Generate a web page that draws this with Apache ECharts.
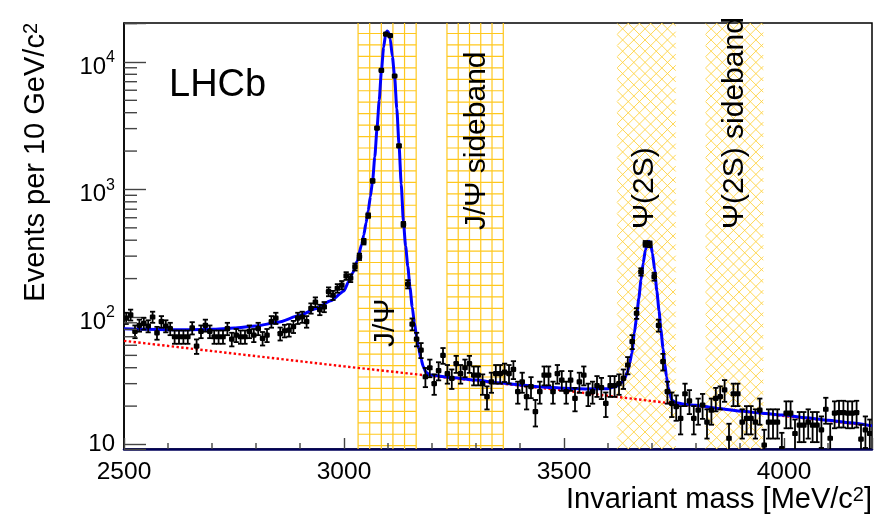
<!DOCTYPE html>
<html><head><meta charset="utf-8">
<script src="https://cdn.jsdelivr.net/npm/echarts@6/dist/echarts.min.js"></script>
<style>html,body{margin:0;padding:0;background:#fff}#c{width:887px;height:521px}</style>
</head><body><div id="c"></div>
<script>
// ---- data ----
const binStart = 2500;      // MeV/c^2
const binWidth = 10;        // MeV/c^2
const counts = [
  98,104,77,86,89,85,100,75,92,85,
  81,70,70,70,70,82,59,77,86,77,
  70,70,70,81,67,72,70,70,77,72,
  81,68,72,92,98,74,78,79,84,98,
  100,92,117,131,114,120,158,148,168,178,
  210,202,247,297,390,624,1167,3030,8580,16500,
  16100,7760,2200,533,181,88,67,55,34,40,
  30,38,50,36,33,43,36,40,43,35,
  35,30,23.7,31,36,36,37,36,38.8,26,
  31,23.7,28.4,18.1,26,35,35,26,36,32,
  26,32,23,31,35,25,26,29,28,21,
  29,29,30,33,42,64,107,226,375,372,
  207,86,44.7,26,21,19.8,16,25,22,16,
  18.6,20.4,15,18.6,23,23.7,26.8,11.2,25,25,
  15,16,16,15,18.6,9.9,15,15,15,9.3,
  17.6,17.6,12.2,14.2,14.2,15,14.2,14.2,13,18.9,
  11.2,17.6,17.8,17.8,17.6,17.6,17.8,11,13,12.2
];
const fitMass = [2500,2550,2600,2650,2700,2750,2800,2850,2900,2935,2970,3000,3010,3020,3030,3040,3045,3050,3055,
  3060,3065,3070,3075,3080,3085,3090,3095,3098,3101,3105,3110,3115,3120,3125,3130,3135,3140,3145,3150,
  3155,3160,3165,3170,3175,3180,3186,3195,3250,3300,3350,3400,3450,3500,3550,3600,
  3620,3630,3638,3644,3649,3654,3660,3665,3670,3675,3680,3685,3690,3693,3697,3701,3706,3711,3716,3720,
  3725,3729,3733,3737,3741,3745,3755,3770,3800,3850,3900,3950,4000,4050,4100,4150,4200];
const fitVal = [81,80,79.5,79.5,80,82,85,91,103,116,134,160,188,222,275,370,440,545,680,
  880,1170,1800,3000,5000,8500,13000,16800,17500,17200,15200,11000,7700,4300,2250,1100,560,360,250,170,
  120,90,70,56,47,41,37,35,33.4,32,30.5,29.3,28.3,27.6,27.3,27.4,
  28.8,30.5,33,37,43,52,75,100,140,195,265,335,385,392,372,316,235,160,112,80,
  57,43,34,28,24.5,22.3,21.3,20.8,20.3,19.2,18.3,17.6,17,16.2,15.5,14.8,14];
const bkgMass = [2500,3000,3500,3745,4200];
const bkgVal  = [65,41,26.5,21,14];
const bandStart = [3032,3234,3621,3822];
const bandEnd   = [3164,3362,3754,3953];
const bandKind  = ['grid','grid','cross','cross'];
const xTickLabels = [2500,3000,3500,4000];
const xMinorTicks = [2600,2700,2800,2900,3100,3200,3300,3400,3600,3700,3800,3900,4100];
const yTickExponents = [1,2,3,4];
const yMinorTicks = [20,30,40,50,60,70,80,90,200,300,400,500,600,700,800,900,
  2000,3000,4000,5000,6000,7000,8000,9000,20000];

const FONT = '"Liberation Sans", Arial, Helvetica, sans-serif';
const chart = echarts.init(document.getElementById('c'), null, {renderer:'canvas'});

const pointData = counts.map((v,i)=>[binStart + binWidth*(i+0.5), v]);
const fitData = fitMass.map((m,i)=>[m, fitVal[i]]);
const bkgData = bkgMass.map((m,i)=>[m, bkgVal[i]]);
const bandData = bandStart.map((s,i)=>[s, bandEnd[i], i]);
const tickData = yMinorTicks.map(v=>[2500, v, 0]).concat(xMinorTicks.map(v=>[v, 100, 1]));

function bandRender(params, api){
  const cs = params.coordSys;
  const xa = api.coord([api.value(0), 100])[0];
  const xb = api.coord([api.value(1), 100])[0];
  const y0 = cs.y, y1 = cs.y + cs.height;
  const kind = bandKind[api.value(2)];
  const ch = [];
  if (kind === 'grid') {
    const col = '#ffc81e';
    const n = Math.round((xb-xa)/11.5), dx = (xb-xa)/n;
    for (let i=0;i<=n;i++) ch.push({type:'line', shape:{x1:xa+i*dx,y1:y0,x2:xa+i*dx,y2:y1}, style:{stroke:col,lineWidth:1.2}});
    for (let y=y0+10.5; y<y1; y+=11.45) ch.push({type:'line', shape:{x1:xa,y1:y,x2:xb,y2:y}, style:{stroke:col,lineWidth:1.2}});
  } else {
    const col = '#ffd23f';
    const sp = 11.2, H = y1-y0;
    for (let c = xa - H - sp; c < xb + sp; c += sp) {
      const ylo = Math.max(y0, y0 + (xa - c)), yhi = Math.min(y1, y0 + (xb - c));
      if (yhi > ylo) ch.push({type:'line', shape:{x1:c+ylo-y0,y1:ylo,x2:c+yhi-y0,y2:yhi}, style:{stroke:col,lineWidth:0.9}});
    }
    for (let d = xa - sp; d < xb + H + sp; d += sp) {
      const ylo = Math.max(y0, y0 + d - xb), yhi = Math.min(y1, y0 + d - xa);
      if (yhi > ylo) ch.push({type:'line', shape:{x1:d-(ylo-y0),y1:ylo,x2:d-(yhi-y0),y2:yhi}, style:{stroke:col,lineWidth:0.9}});
    }
  }
  return {type:'group', children: ch};
}

function pointRender(params, api){
  const x = api.value(0), v = api.value(1);
  const e = Math.sqrt(v);
  const p = api.coord([x, v]);
  const hi = api.coord([x, v + e]);
  const lo = api.coord([x, Math.max(v - e, 0.5)]);
  const st = {stroke:'#000', lineWidth:1.8};
  return {type:'group', children:[
    {type:'line', shape:{x1:p[0],y1:hi[1],x2:p[0],y2:lo[1]}, style:st},
    {type:'line', shape:{x1:p[0]-2.6,y1:hi[1],x2:p[0]+2.6,y2:hi[1]}, style:st},
    {type:'line', shape:{x1:p[0]-2.6,y1:lo[1],x2:p[0]+2.6,y2:lo[1]}, style:st},
    {type:'rect', shape:{x:p[0]-2.8,y:p[1]-2.6,width:5.6,height:5.2,r:1.2}, style:{fill:'#000'}}
  ]};
}

function tickRender(params, api){
  const cs = params.coordSys;
  const kind = api.value(2);
  const st = {stroke:'#444', lineWidth:1.4};
  if (kind === 0) {
    const p = api.coord([2500, api.value(1)]);
    return {type:'line', shape:{x1:cs.x, y1:p[1], x2:cs.x+13, y2:p[1]}, style:st};
  }
  const p = api.coord([api.value(0), 100]);
  const yb = cs.y + cs.height;
  return {type:'line', shape:{x1:p[0], y1:yb, x2:p[0], y2:yb-6}, style:st};
}

const supStyle = {fontSize:20, fontFamily:FONT, fill:'#000', verticalAlign:'top', lineHeight:14};

const option = {
  animation:false,
  backgroundColor:'#fff',
  grid:{left:124, top:23, right:15, bottom:72, show:true, borderColor:'#000', borderWidth:1.5, containLabel:false},
  xAxis:{type:'value', min:2500, max:4200, interval:500,
    axisLine:{show:true, onZero:false, lineStyle:{color:'#00005a', width:2.5}},
    axisTick:{show:true, inside:true, length:11, lineStyle:{color:'#444', width:1.4}},
    splitLine:{show:false},
    axisLabel:{margin:11, color:'#000', fontSize:24.5, fontFamily:FONT,
      formatter:v=> xTickLabels.indexOf(v) >= 0 ? String(v) : ''}
  },
  yAxis:{type:'log', logBase:10, min:9.22, max:20200,
    axisLine:{show:true, lineStyle:{color:'#000', width:1.5}},
    axisTick:{show:true, inside:true, length:22, lineStyle:{color:'#444', width:1.4}},
    splitLine:{show:false}, minorTick:{show:false},
    axisLabel:{margin:9, color:'#000', fontFamily:FONT,
      formatter:function(v){
        const e = Math.log10(v), r = Math.round(e);
        if (Math.abs(e-r) > 1e-6 || yTickExponents.indexOf(r) < 0) return '';
        if (r === 1) return '{p|10}';
        return '{b|10}{s|' + r + '}';
      },
      rich:{
        p:{fontSize:24, fontFamily:FONT, color:'#000'},
        b:{fontSize:24, fontFamily:FONT, color:'#000', lineHeight:24, padding:[10,0,0,0]},
        s:{fontSize:16, fontFamily:FONT, color:'#000', lineHeight:24, verticalAlign:'top'}
      }
    }
  },
  series:[
    {type:'custom', name:'bands', renderItem:bandRender, data:bandData, clip:true, z:1, silent:true,
      encode:{x:[0,1]}},
    {type:'custom', name:'ticks', renderItem:tickRender, data:tickData, clip:false, z:6, silent:true,
      encode:{x:0, y:1}},
    {type:'line', name:'background', data:bkgData, symbol:'none', z:3,
      lineStyle:{color:'#ff0000', width:2.4, type:[2.4,2.4]}},
    {type:'line', name:'fit', data:fitData, symbol:'none', z:4, smooth:0.2, smoothMonotone:'x',
      lineStyle:{color:'#0000ff', width:3}},
    {type:'custom', name:'data', renderItem:pointRender, data:pointData, clip:true, z:5,
      encode:{x:0, y:1}}
  ],
  graphic:[
    {type:'text', x:169, y:86, z:100, style:{text:'LHCb', font:'38px '+FONT, fill:'#000',
      align:'left', verticalAlign:'middle', textAlign:'left', textVerticalAlign:'middle'}},
    {type:'text', x:386, y:347, rotation:Math.PI/2, z:100, style:{text:'J/Ψ', font:'30px '+FONT, fill:'#000',
      align:'left', verticalAlign:'middle', textAlign:'left', textVerticalAlign:'middle'}},
    {type:'text', x:477, y:230, rotation:Math.PI/2, z:100, style:{text:'J/Ψ sideband', font:'30px '+FONT, fill:'#000',
      align:'left', verticalAlign:'middle', textAlign:'left', textVerticalAlign:'middle'}},
    {type:'text', x:645, y:229, rotation:Math.PI/2, z:100, style:{text:'Ψ(2S)', font:'30px '+FONT, fill:'#000',
      align:'left', verticalAlign:'middle', textAlign:'left', textVerticalAlign:'middle'}},
    {type:'text', x:735, y:229, rotation:Math.PI/2, z:100, style:{text:'Ψ(2S) sideband', font:'30px '+FONT, fill:'#000',
      align:'left', verticalAlign:'middle', textAlign:'left', textVerticalAlign:'middle'}},
    {type:'text', x:36, y:23, rotation:Math.PI/2, z:100, style:{text:'Events per 10 GeV/c{s|2}', font:'29px '+FONT, fill:'#000',
      align:'right', verticalAlign:'middle', textAlign:'right', textVerticalAlign:'middle',
      rich:{s:supStyle}}},
    {type:'text', x:872, y:500, z:100, style:{text:'Invariant mass [MeV/c{s|2}]', font:'29px '+FONT, fill:'#000',
      align:'right', verticalAlign:'middle', textAlign:'right', textVerticalAlign:'middle',
      rich:{s:supStyle}}}
  ]
};
chart.setOption(option);
</script>
</body></html>
